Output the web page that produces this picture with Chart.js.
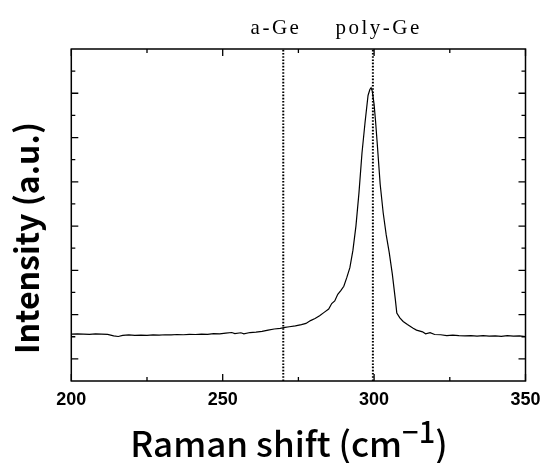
<!DOCTYPE html>
<html lang="en">
<head>
<meta charset="UTF-8"/>
<title>Raman spectrum</title>
<script src="https://cdn.jsdelivr.net/npm/chart.js@4/dist/chart.umd.min.js"></script>
<style>
  *{box-sizing:border-box;margin:0;padding:0}
  body{background:#fff;width:544px;height:463px;overflow:hidden}
</style>
</head>
<body>
<canvas id="raman" width="544" height="463"></canvas>
<script>
// spectrum (x = Raman shift, y = arbitrary intensity units)
const shift = [200,202,204,206,208,210,212,214,215.5,217,219,221,223,225,227,229,231,233,235,237,239,241,243,245,247,249,251,253,254,256,257,259,261,263,265,267,269,270.6,272,274,276,277.5,279,280.5,282,283.5,285,286,287,288,289,290,291,292,293,294,295,296,297,298,298.6,299,299.4,300,300.5,301,302,303,304,305,306,307,307.5,308.5,309.6,311,312.9,314,316,317,318.5,320,322,324,326,328,330,332,334,336,338,340,342,344,346,348,350];
const intensity = [1.12,1.13,1.12,1.11,1.13,1.12,1.11,1.04,1.01,1.06,1.08,1.06,1.07,1.06,1.08,1.07,1.09,1.08,1.10,1.09,1.11,1.10,1.12,1.11,1.14,1.13,1.16,1.19,1.14,1.18,1.13,1.19,1.21,1.24,1.30,1.35,1.38,1.42,1.45,1.49,1.55,1.60,1.73,1.82,1.95,2.10,2.25,2.50,2.62,2.92,3.08,3.28,3.68,4.12,4.90,6.0,7.5,9.3,10.67,11.9,12.17,12.25,12.1,11.5,10.7,9.8,7.9,6.6,5.6,4.8,3.85,2.7,2.07,1.85,1.69,1.55,1.38,1.30,1.22,1.13,1.18,1.10,1.09,1.05,1.07,1.05,1.04,1.05,1.03,1.05,1.03,1.04,1.02,1.05,1.03,1.04,1.01];

const markerPos    = [270, 299.6];
const markerLabels = ['a-Ge', 'poly-Ge'];
const markerTextAt = [267.6, 301.5];

const xMajor = [200, 250, 300, 350];
const xMinor = [225, 275, 325];
const yMajor = [0, 2, 4, 6, 8, 10, 12];
const yMinor = [1, 3, 5, 7, 9, 11, 13];

const X_MIN = 200, X_MAX = 350, Y_MIN = -1, Y_MAX = 14;

const pts = shift.map((x, i) => ({x, y: intensity[i]}));
const markerSets = markerPos.map(v => ({
  data: [{x: v, y: Y_MIN}, {x: v, y: Y_MAX}],
  borderColor: '#000', borderWidth: 2, borderDash: [1.6, 1.6], pointRadius: 0
}));

// frame, inward ticks and all titles
const frame = {
  id: 'frame',
  afterDatasetsDraw(chart) {
    const ctx = chart.ctx, a = chart.chartArea;
    const xs = chart.scales.x, ys = chart.scales.y;
    ctx.save();
    ctx.strokeStyle = '#000';
    ctx.lineWidth = 1.5;
    ctx.strokeRect(a.left, a.top, a.right - a.left, a.bottom - a.top);
    ctx.lineWidth = 1.3;
    const tick = (vals, len, isX) => vals.forEach(v => {
      ctx.beginPath();
      if (isX) {
        const p = xs.getPixelForValue(v);
        ctx.moveTo(p, a.bottom); ctx.lineTo(p, a.bottom - len);
        ctx.moveTo(p, a.top);    ctx.lineTo(p, a.top + len);
      } else {
        const p = ys.getPixelForValue(v);
        ctx.moveTo(a.left, p);  ctx.lineTo(a.left + len, p);
        ctx.moveTo(a.right, p); ctx.lineTo(a.right - len, p);
      }
      ctx.stroke();
    });
    tick(xMajor, 7, true); tick(xMinor, 4, true);
    tick(yMajor, 7, false); tick(yMinor, 4, false);

    ctx.fillStyle = '#000';
    // peak labels
    ctx.font = '21px "Liberation Serif", serif';
    ctx.letterSpacing = '2.5px';
    ctx.textAlign = 'center';
    ctx.textBaseline = 'alphabetic';
    markerLabels.forEach((t, i) => ctx.fillText(t, xs.getPixelForValue(markerTextAt[i]), 34));
    ctx.letterSpacing = '0px';

    // y title
    ctx.save();
    ctx.translate(39, 238);
    ctx.rotate(-Math.PI / 2);
    ctx.font = 'bold 32px "Noto Sans CJK JP", sans-serif';
    ctx.fillText('Intensity (a.u.)', 0, 0);
    ctx.restore();

    // x title with superscript
    const main = '500 35px "Noto Sans CJK JP", sans-serif';
    const sup  = '500 29px "Noto Sans CJK JP", sans-serif';
    ctx.textAlign = 'left';
    ctx.font = main; const w1 = ctx.measureText('Raman shift (cm').width, w3 = ctx.measureText(')').width;
    ctx.font = sup;  const w2 = ctx.measureText('\u22121').width;
    let x0 = 289 - (w1 + w2 + w3) / 2;
    ctx.font = main; ctx.fillText('Raman shift (cm', x0, 457);
    ctx.font = sup;  ctx.fillText('\u22121', x0 + w1, 443);
    ctx.font = main; ctx.fillText(')', x0 + w1 + w2, 457);
    ctx.restore();
  }
};

new Chart(document.getElementById('raman'), {
  type: 'line',
  data: {datasets: [
    {data: pts, borderColor: '#000', borderWidth: 1.2, pointRadius: 0, tension: 0},
    ...markerSets
  ]},
  options: {
    responsive: false, animation: false, devicePixelRatio: 1,
    layout: {padding: {left: 0, top: 49, right: 18.5, bottom: 0}},
    plugins: {legend: {display: false}, tooltip: {enabled: false}},
    scales: {
      x: {type: 'linear', min: X_MIN, max: X_MAX,
          afterFit: s => { s.height = 82; s.paddingLeft = 0; s.paddingRight = 0; },
          afterBuildTicks: s => { s.ticks = xMajor.map(v => ({value: v})); },
          ticks: {color: '#000', padding: 8, maxRotation: 0,
                  font: {family: '"Liberation Sans", Arial, sans-serif', weight: 'bold', size: 18}},
          grid: {display: false, drawTicks: false}, border: {display: false}},
      y: {type: 'linear', min: Y_MIN, max: Y_MAX,
          afterFit: s => { s.width = 71.3; },
          ticks: {display: false},
          grid: {display: false, drawTicks: false}, border: {display: false}}
    }
  },
  plugins: [frame]
});
</script>
</body>
</html>
